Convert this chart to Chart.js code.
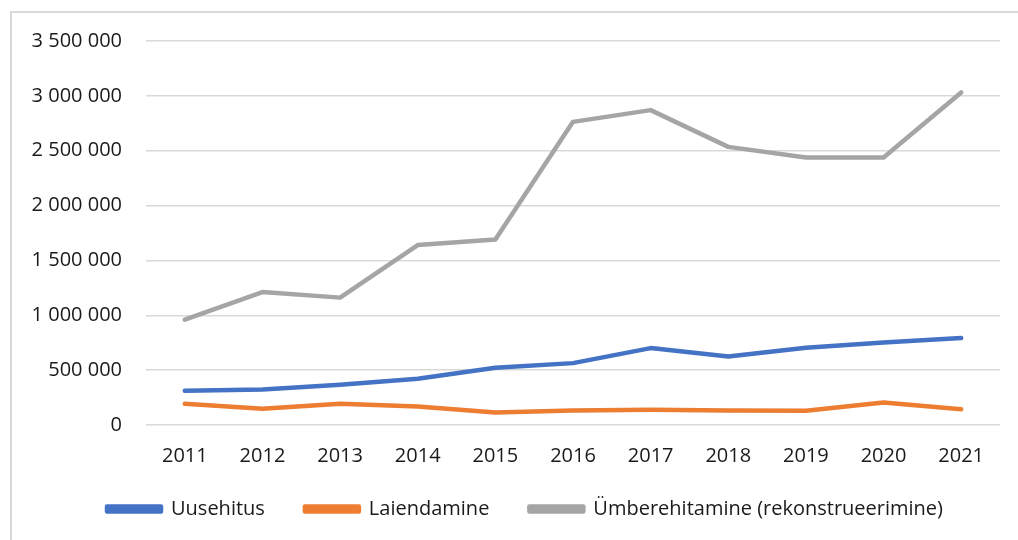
<!DOCTYPE html>
<html>
<head>
<meta charset="utf-8">
<script src="https://cdn.jsdelivr.net/npm/chart.js@4.4.1/dist/chart.umd.min.js"></script>
<style>
    html, body { margin: 0; padding: 0; background: #fff; }
    #frame { position: absolute; left: 10px; top: 11px; width: 1020px; height: 540px; border: 2px solid #d9d9d9; box-sizing: border-box; }
    #wrap { position: absolute; left: 0; top: 0; width: 1018px; height: 540px; }
</style>
</head>
<body>
<div id="frame"></div>
<div id="wrap"><canvas id="chart"></canvas></div>
<script>
var years = ["2011", "2012", "2013", "2014", "2015", "2016", "2017", "2018", "2019", "2020", "2021"];
var uusehitus = [312000, 324000, 367000, 421000, 522000, 564000, 701000, 625000, 704000, 753000, 792000];
var laiendamine = [193000, 148000, 193000, 169000, 114000, 132000, 139000, 132000, 130000, 205000, 144000];
var umberehitamine = [960000, 1212000, 1161000, 1640000, 1690000, 2763000, 2870000, 2535000, 2438000, 2438000, 3031000];

var font = "'Open Sans', 'Liberation Sans', sans-serif";
var textColor = "#1a1a1a";

function fmt(v) {
    return String(v).replace(/\B(?=(\d{3})+(?!\d))/g, " ");
}

function series(label, values, color) {
    return {
        label: label, data: values,
        borderColor: color, backgroundColor: color,
        borderWidth: 4.5, pointRadius: 0, tension: 0,
        borderCapStyle: "round", borderJoinStyle: "round"
    };
}

// the legend in the original sits a bit right of centre and closer to the axis; nudge it
var legendShift = {
    id: "legendShift",
    afterLayout: function(chart) {
        var lg = chart.legend;
        if (!lg) return;
        lg.left += 50;
        lg.top -= 14; lg.bottom -= 14;
    }
};

new Chart(document.getElementById("chart"), {
    type: "line",
    data: {
        labels: years,
        datasets: [
            series("Uusehitus", uusehitus, "#4472C4"),
            series("Laiendamine", laiendamine, "#ED7D31"),
            series("Ümberehitamine (rekonstrueerimine)", umberehitamine, "#A5A5A5")
        ]
    },
    options: {
        animation: false,
        responsive: true,
        maintainAspectRatio: false,
        layout: { padding: { left: 0, right: 18, top: 41, bottom: -3 } },
        scales: {
            x: {
                offset: true,
                grid: { display: false, drawTicks: false },
                border: { display: false },
                ticks: { color: textColor, font: { family: font, size: 20 }, padding: 19, maxRotation: 0 },
                afterFit: function(s) { s.height = 48; }
            },
            y: {
                min: 0, max: 3500000,
                grid: { color: "#d9d9d9", lineWidth: 1.5, drawTicks: false },
                border: { display: false },
                ticks: { stepSize: 500000, color: textColor, font: { family: font, size: 20 }, padding: 24, callback: function(v) { return fmt(v); } },
                afterFit: function(s) { s.width = 146; }
            }
        },
        plugins: {
            legend: {
                position: "bottom",
                labels: { color: textColor, font: { family: font, size: 20 }, boxWidth: 54, boxHeight: 5, padding: 40 }
            },
            tooltip: { enabled: false }
        }
    },
    plugins: [legendShift]
});
</script>
</body>
</html>
